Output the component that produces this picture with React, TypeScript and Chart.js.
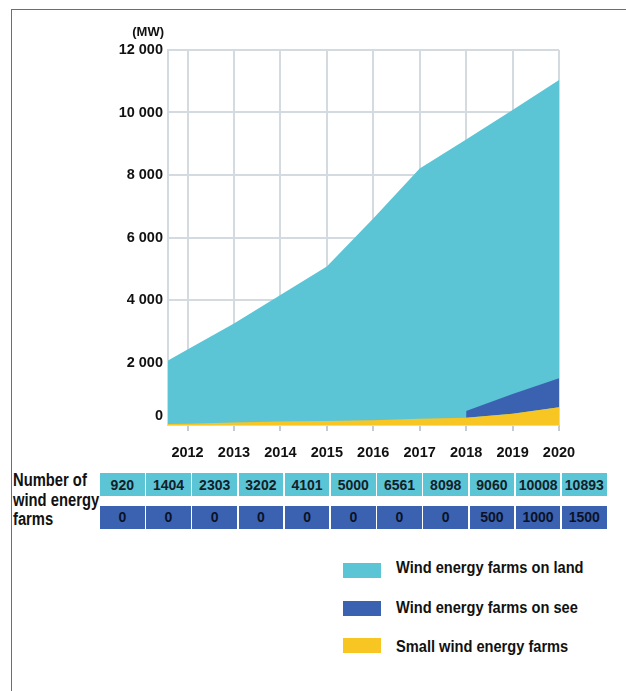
import React, { useEffect, useRef } from "react";
import { Chart, registerables } from "chart.js";

Chart.register(...registerables);

// ---- data ----
const years = [2011, 2012, 2013, 2014, 2015, 2016, 2017, 2018, 2019, 2020];
const yearTicks = [2012, 2013, 2014, 2015, 2016, 2017, 2018, 2019, 2020];
const landMW = [1580, 2420, 3250, 4160, 5070, 6610, 8210, 9140, 10080, 11040];
const seaMW: (number | null)[] = [null, null, null, null, null, null, null, 220, 630, 930];
const smallMW = [20, 40, 80, 110, 130, 150, 200, 230, 360, 570];
const yTicks = [0, 2000, 4000, 6000, 8000, 10000, 12000];
const xMin = 2011.58;
const xMax = 2020;

const farmCountLand = [920, 1404, 2303, 3202, 4101, 5000, 6561, 8098, 9060, 10008, 10893];
const farmCountSea = [0, 0, 0, 0, 0, 0, 0, 0, 500, 1000, 1500];
const tableTitle = ["Number of", "wind energy", "farms"];
const legendLabels = ["Wind energy farms on land", "Wind energy farms on see", "Small wind energy farms"];
const unitLabel = "(MW)";

// ---- style ----
const LAND = "#5bc5d6";
const SEA = "#3b62b1";
const SMALL = "#f8c623";
const GRID = "#d3dae0";
const FONT = "'Liberation Sans', Arial, sans-serif";

const fmt = (v: number) => String(v).replace(/\B(?=(\d{3})+(?!\d))/g, " ");

// the "0" label sits a little above the baseline in the original
const zeroLabelPlugin = {
  id: "zeroLabel",
  afterDraw(chart: any) {
    const y = chart.scales.y;
    const c = chart.ctx;
    c.save();
    c.font = `bold 14.5px ${FONT}`;
    c.fillStyle = "#111";
    c.textAlign = "right";
    c.textBaseline = "middle";
    c.fillText(fmt(yTicks[0]), chart.chartArea.left - 5, y.getPixelForValue(yTicks[0]) - 9);
    c.restore();
  },
};

export default function App() {
  const canvasRef = useRef<HTMLCanvasElement | null>(null);

  useEffect(() => {
    const ctx = canvasRef.current;
    if (!ctx) return;
    const chart = new Chart(ctx, {
      type: "line",
      data: {
        datasets: [
          {
            label: legendLabels[2],
            data: years.map((x, i) => ({ x, y: smallMW[i] })),
            backgroundColor: SMALL,
            borderColor: "rgba(0,0,0,0)",
            borderWidth: 0,
            pointRadius: 0,
            fill: "origin",
          },
          {
            label: legendLabels[1],
            data: years.map((x, i) => ({ x, y: seaMW[i] == null ? null : smallMW[i] + (seaMW[i] as number) })),
            backgroundColor: SEA,
            borderColor: "rgba(0,0,0,0)",
            borderWidth: 0,
            pointRadius: 0,
            fill: 0,
          },
          {
            label: legendLabels[0],
            data: years.map((x, i) => ({ x, y: landMW[i] })),
            backgroundColor: LAND,
            borderColor: "rgba(0,0,0,0)",
            borderWidth: 0,
            pointRadius: 0,
            fill: "origin",
          },
        ] as any,
      },
      options: {
        animation: false,
        responsive: false,
        events: [],
        layout: { padding: { left: 0, right: 67, top: 50, bottom: 0 } },
        plugins: { legend: { display: false }, tooltip: { enabled: false } },
        elements: { line: { tension: 0 } },
        scales: {
          x: {
            type: "linear",
            min: xMin,
            max: xMax,
            bounds: "data",
            afterBuildTicks: (s: any) => {
              s.ticks = yearTicks.map((v) => ({ value: v }));
            },
            afterFit: (s: any) => {
              s.height = 45;
            },
            grid: { color: GRID, lineWidth: 2, drawTicks: true, tickLength: 6, tickColor: "#c3ccd4" },
            border: { display: false },
            ticks: {
              autoSkip: false,
              maxRotation: 0,
              padding: 13,
              color: "#111",
              font: { family: FONT, size: 14.5, weight: "bold" },
              callback: (v: any) => String(v),
            },
          },
          y: {
            type: "linear",
            min: 0,
            max: 12000,
            afterBuildTicks: (s: any) => {
              s.ticks = yTicks.map((v) => ({ value: v }));
            },
            afterFit: (s: any) => {
              s.width = 168;
            },
            grid: { color: GRID, lineWidth: 2, drawTicks: false },
            border: { display: true, color: GRID, width: 2 },
            ticks: {
              padding: 5,
              color: "#111",
              font: { family: FONT, size: 14.5, weight: "bold" },
              callback: (v: any) => (Number(v) === yTicks[0] ? "" : fmt(Number(v))),
            },
          },
        },
      } as any,
      plugins: [zeroLabelPlugin],
    });
    return () => chart.destroy();
  }, []);

  const cellLeft = (i: number) => 100 + i * 46.2;

  return (
    <div style={{ position: "absolute", left: 0, top: 0, width: 626, height: 691, background: "#fff", overflow: "hidden" }}>
      <div
        style={{
          position: "absolute",
          left: 11,
          top: 9,
          width: 640,
          height: 700,
          borderTop: "1.7px solid #6e6e6e",
          borderLeft: "1.7px solid #6e6e6e",
          boxSizing: "border-box",
        }}
      />
      <canvas ref={canvasRef} width={626} height={470} style={{ position: "absolute", left: 0, top: 0 }} />
      <div
        style={{
          position: "absolute",
          right: 626 - 164,
          top: 24,
          font: `bold 13px ${FONT}`,
          color: "#111",
          lineHeight: "16px",
          whiteSpace: "nowrap",
        }}
      >
        {unitLabel}
      </div>

      <div
        style={{
          position: "absolute",
          left: 13,
          top: 471,
          font: `bold 18px ${FONT}`,
          lineHeight: "19.5px",
          color: "#111",
          whiteSpace: "nowrap",
          transform: "scaleX(0.82)",
          transformOrigin: "0 0",
        }}
      >
        {tableTitle.map((t, i) => (
          <div key={i}>{t}</div>
        ))}
      </div>

      {farmCountLand.map((v, i) => (
        <div
          key={"l" + i}
          style={{
            position: "absolute",
            left: cellLeft(i),
            top: 473,
            width: 44.6,
            height: 23,
            background: LAND,
            font: `bold 14px ${FONT}`,
            color: "#142028",
            display: "flex",
            alignItems: "center",
            justifyContent: "center",
          }}
        >
          {v}
        </div>
      ))}
      {farmCountSea.map((v, i) => (
        <div
          key={"s" + i}
          style={{
            position: "absolute",
            left: cellLeft(i),
            top: 506,
            width: 44.6,
            height: 22.5,
            background: SEA,
            font: `bold 14px ${FONT}`,
            color: "#0b1226",
            display: "flex",
            alignItems: "center",
            justifyContent: "center",
          }}
        >
          {v}
        </div>
      ))}

      {legendLabels.map((t, i) => (
        <React.Fragment key={"lg" + i}>
          <div
            style={{
              position: "absolute",
              left: 343,
              top: [562.5, 600.5, 637.5][i],
              width: 38,
              height: 15,
              background: [LAND, SEA, SMALL][i],
            }}
          />
          <div
            style={{
              position: "absolute",
              left: 396,
              top: [568.5, 609, 647.5][i] - 11,
              height: 22,
              lineHeight: "22px",
              font: `bold 17px ${FONT}`,
              color: "#111",
              whiteSpace: "nowrap",
              transform: "scaleX(0.86)",
              transformOrigin: "0 50%",
            }}
          >
            {t}
          </div>
        </React.Fragment>
      ))}
    </div>
  );
}
